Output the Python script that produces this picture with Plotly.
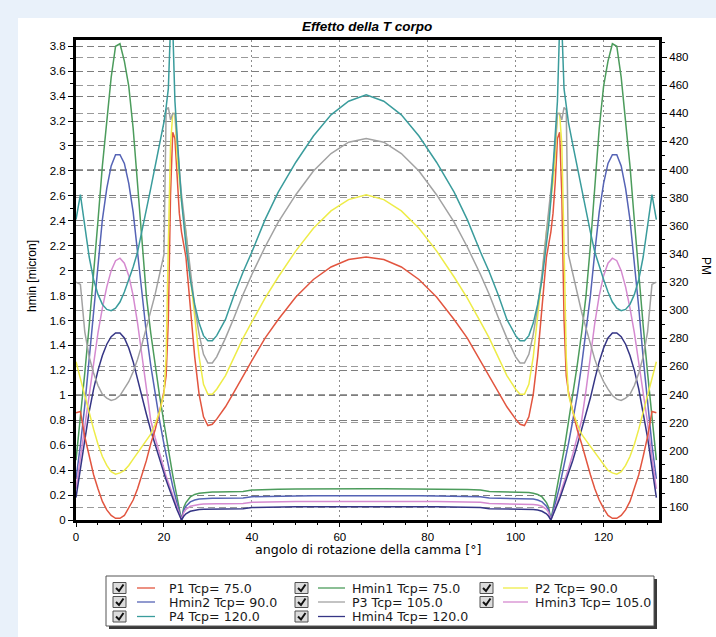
import plotly.graph_objects as go

# ---------------- data ----------------
ANGLE = [0, 1, 2, 3, 4, 5, 6, 7, 8, 9, 10, 11, 12, 13, 14, 15, 16, 17, 18, 19, 20,
         20.5, 21, 21.5, 22, 22.5, 23, 23.5, 24, 24.5, 25, 26, 27, 28, 29, 30, 31, 32,
         34, 36, 38, 40, 43, 46, 50, 54, 58, 62, 66,
         70, 74, 78, 82, 86, 89, 92, 94, 96, 98, 100, 101, 102, 103, 104, 105, 106, 107,
         107.5, 108, 108.5, 109, 109.5, 110, 110.5, 111, 111.5, 112,
         113, 114, 115, 116, 117, 118, 119, 120, 121, 122, 123, 124, 125, 126, 127, 128,
         129, 130, 131, 132]

# pressures (right axis, PM)
P1 = [227, 228, 210, 196, 183, 173, 164, 158, 154, 152, 152, 154, 159, 165, 173, 183, 193, 205, 215, 228, 242,
      253.5, 293.4, 382, 426.5, 422, 391, 369, 355.5, 346.6, 337.8, 302.3, 266.8, 240.2, 224.2, 218, 218.9, 222.5,
      231.3, 242, 253.5, 264.1, 280.1, 293.4, 309.4, 321.8, 330.7, 336, 337.8,
      336, 330.7, 321.8, 309.4, 293.4, 280.1, 264.1, 253.5, 242, 231.3, 222.5, 218.9, 218, 224.2, 240.2, 266.8,
      302.3, 337.8, 346.6, 355.5, 369, 391, 422, 426.5, 382, 293.4, 253.5, 242, 228, 215, 205, 193, 183, 173, 165,
      159, 154, 152, 152, 154, 158, 164, 173, 183, 196, 210, 228, 227]
P2 = [263.3, 250.8, 238.4, 226.9, 215.4, 204.7, 195.9, 189.6, 185.2, 183.4, 184.3, 186.1, 189.6, 194.1, 198.5,
      203, 207.4, 211.8, 218.9, 227.8, 240.2, 266.8, 346.6, 417.6, 439.8, 439.8, 408.7, 391, 377.7, 366.2, 355.5,
      324.5, 293.4, 266.8, 247.3, 240.2, 240.2, 243.8, 253.5, 266.8, 280.1, 291.6, 308.5, 323.6, 342.2, 358.2,
      370.6, 378.6, 382.1,
      378.6, 370.6, 358.2, 342.2, 323.6, 308.5, 291.6, 280.1, 266.8, 253.5, 243.8, 240.2, 240.2, 247.3, 266.8,
      293.4, 324.5, 355.5, 366.2, 377.7, 391, 408.7, 439.8, 439.8, 417.6, 346.6, 266.8, 240.2, 227.8, 218.9,
      211.8, 207.4, 203, 198.5, 194.1, 189.6, 186.1, 184.3, 183.4, 185.2, 189.6, 195.9, 204.7, 215.4, 226.9,
      238.4, 250.8, 263.3]
P3 = [320, 318.3, 284.6, 266.8, 255.3, 246.4, 240.2, 237.5, 235.8, 236.7, 239.3, 243.8, 249.1, 256.2, 265,
      275.7, 287.2, 298.7, 311.2, 325.4, 339.5, 442.4, 444.2, 435.3, 439.8, 439.8, 417.6, 399.9, 382.1, 368.8,
      355.5, 326.2, 302.3, 282.8, 268.6, 262.4, 262.4, 266.8, 280.1, 295.2, 311.2, 325.4, 344.9, 362.6, 382.1,
      399, 411.4, 419.4, 422,
      419.4, 411.4, 399, 382.1, 362.6, 344.9, 325.4, 311.2, 295.2, 280.1, 266.8, 262.4, 262.4, 268.6, 282.8,
      302.3, 326.2, 355.5, 368.8, 382.1, 399.9, 417.6, 439.8, 439.8, 435.3, 444.2, 442.4, 339.5, 325.4, 311.2,
      298.7, 287.2, 275.7, 265, 256.2, 249.1, 243.8, 239.3, 236.7, 235.8, 237.5, 240.2, 246.4, 255.3, 266.8,
      284.6, 318.3, 320]
P4 = [364.4, 382.1, 360, 337.8, 321.8, 311.2, 304.1, 300.5, 299.6, 301.4, 305.8, 312.9, 321.8, 330.7, 341.3,
      355.5, 371.5, 386.6, 401.6, 417.6, 433.6, 444.2, 457.5, 502, 502, 448.6, 422, 399.9, 377.7, 360, 346.6,
      321.8, 304.1, 290.8, 281.9, 278.3, 278.3, 281.9, 293.4, 311.2, 327.1, 341.3, 364.4, 383.9, 405.2, 423.8,
      438.9, 448.6, 453.1,
      448.6, 438.9, 423.8, 405.2, 383.9, 364.4, 341.3, 327.1, 311.2, 293.4, 281.9, 278.3, 278.3, 281.9, 290.8,
      304.1, 321.8, 346.6, 360, 377.7, 399.9, 422, 448.6, 502, 502, 457.5, 444.2, 433.6, 417.6, 401.6, 386.6,
      371.5, 355.5, 341.3, 330.7, 321.8, 312.9, 305.8, 301.4, 299.6, 300.5, 304.1, 311.2, 321.8, 337.8, 360,
      382.1, 364.4]

# minimum film thickness (left axis, micron)
HMIN1 = [0.48, 0.82, 1.18, 1.56, 1.96, 2.4, 2.84, 3.2, 3.55, 3.8, 3.82, 3.68, 3.48, 3.14, 2.7, 2.2, 1.8, 1.5,
         1.24, 1.0, 0.78, 0.67, 0.56, 0.46, 0.36, 0.27, 0.18, 0.09, 0, 0.1, 0.14, 0.185, 0.205, 0.215, 0.22,
         0.222, 0.224, 0.225, 0.226, 0.227, 0.228, 0.24, 0.245, 0.247, 0.248, 0.25, 0.25, 0.25, 0.25,
         0.25, 0.25, 0.25, 0.248, 0.247, 0.245, 0.24, 0.228, 0.227, 0.226, 0.225, 0.224, 0.222, 0.22, 0.215,
         0.205, 0.185, 0.14, 0.1, 0, 0.09, 0.18, 0.27, 0.36, 0.46, 0.56, 0.67, 0.78, 1.0, 1.24, 1.5, 1.8, 2.2,
         2.7, 3.14, 3.48, 3.68, 3.82, 3.8, 3.55, 3.2, 2.84, 2.4, 1.96, 1.56, 1.18, 0.82, 0.48]
HMIN2 = [0.33, 0.6, 0.92, 1.3, 1.7, 2.07, 2.41, 2.66, 2.84, 2.93, 2.93, 2.86, 2.7, 2.47, 2.15, 1.8, 1.5, 1.24,
         1.0, 0.8, 0.61, 0.52, 0.43, 0.35, 0.27, 0.2, 0.13, 0.06, 0, 0.08, 0.11, 0.145, 0.16, 0.168, 0.172,
         0.173, 0.174, 0.175, 0.175, 0.176, 0.177, 0.187, 0.19, 0.192, 0.193, 0.194, 0.195, 0.195, 0.195,
         0.195, 0.195, 0.194, 0.193, 0.192, 0.19, 0.187, 0.177, 0.176, 0.175, 0.175, 0.174, 0.173, 0.172, 0.168,
         0.16, 0.145, 0.11, 0.08, 0, 0.06, 0.13, 0.2, 0.27, 0.35, 0.43, 0.52, 0.61, 0.8, 1.0, 1.24, 1.5, 1.8,
         2.15, 2.47, 2.7, 2.86, 2.93, 2.93, 2.84, 2.66, 2.41, 2.07, 1.7, 1.3, 0.92, 0.6, 0.33]
HMIN3 = [0.25, 0.5, 0.78, 1.03, 1.27, 1.5, 1.7, 1.87, 2.0, 2.08, 2.1, 2.06, 1.96, 1.8, 1.58, 1.32, 1.04, 0.8,
         0.66, 0.53, 0.41, 0.35, 0.3, 0.25, 0.19, 0.14, 0.09, 0.045, 0, 0.06, 0.085, 0.11, 0.12, 0.125, 0.128,
         0.13, 0.13, 0.13, 0.13, 0.131, 0.132, 0.142, 0.145, 0.147, 0.148, 0.149, 0.15, 0.15, 0.15,
         0.15, 0.15, 0.149, 0.148, 0.147, 0.145, 0.142, 0.132, 0.131, 0.13, 0.13, 0.13, 0.13, 0.128, 0.125,
         0.12, 0.11, 0.085, 0.06, 0, 0.045, 0.09, 0.14, 0.19, 0.25, 0.3, 0.35, 0.41, 0.53, 0.66, 0.8, 1.04,
         1.32, 1.58, 1.8, 1.96, 2.06, 2.1, 2.08, 2.0, 1.87, 1.7, 1.5, 1.27, 1.03, 0.78, 0.5, 0.25]
HMIN4 = [0.18, 0.42, 0.66, 0.87, 1.05, 1.2, 1.32, 1.41, 1.47, 1.5, 1.5, 1.46, 1.38, 1.27, 1.13, 0.98, 0.85, 0.72,
         0.6, 0.48, 0.37, 0.32, 0.27, 0.22, 0.17, 0.12, 0.08, 0.04, 0, 0.03, 0.05, 0.07, 0.08, 0.085, 0.087,
         0.088, 0.088, 0.089, 0.089, 0.09, 0.09, 0.1, 0.103, 0.105, 0.106, 0.107, 0.108, 0.108, 0.108,
         0.108, 0.108, 0.107, 0.106, 0.105, 0.103, 0.1, 0.09, 0.09, 0.089, 0.089, 0.088, 0.088, 0.087, 0.085,
         0.08, 0.07, 0.05, 0.03, 0, 0.04, 0.08, 0.12, 0.17, 0.22, 0.27, 0.32, 0.37, 0.48, 0.6, 0.72, 0.85, 0.98,
         1.13, 1.27, 1.38, 1.46, 1.5, 1.5, 1.47, 1.41, 1.32, 1.2, 1.05, 0.87, 0.66, 0.42, 0.18]

SERIES_NAMES = ["P1 Tcp= 75.0", "Hmin1 Tcp= 75.0", "P2 Tcp= 90.0", "Hmin2 Tcp= 90.0",
                "P3 Tcp= 105.0", "Hmin3 Tcp= 105.0", "P4 Tcp= 120.0", "Hmin4 Tcp= 120.0"]
SERIES_VALUES = [P1, HMIN1, P2, HMIN2, P3, HMIN3, P4, HMIN4]
SERIES_AXIS = ["y2", "y", "y2", "y", "y2", "y", "y2", "y"]
SERIES_COLORS = ["#e2553f", "#4c9c5c", "#eeec48", "#5563b5", "#a2a2a2", "#d58ad0", "#3a9c9c", "#353585"]

TITLE = "Effetto della T corpo"
X_TITLE = "angolo di rotazione della camma [°]"
Y_TITLE = "hmin [micron]"
Y2_TITLE = "PM"

# ---------------- layout helpers ----------------
W, H = 716, 637
ML, MR, MT, MB = 76, 57, 40, 117
PW = W - ML - MR
PH = H - MT - MB


def px(x):
    return (x - ML) / PW


def py(y):
    return (H - MB - y) / PH


fig = go.Figure()
for name, vals, ax, col in zip(SERIES_NAMES, SERIES_VALUES, SERIES_AXIS, SERIES_COLORS):
    fig.add_trace(go.Scatter(x=ANGLE, y=vals, yaxis=ax, mode="lines", name=name,
                             line=dict(color=col, width=1.5), showlegend=False))

tickfont = dict(family="Liberation Sans, Arial", size=11.5, color="black")

shapes = []
annotations = []

# page frame: white panel on light-blue background
shapes.append(dict(type="rect", xref="paper", yref="paper", layer="below",
                   x0=px(18), x1=px(W + 5), y0=py(H + 5), y1=py(18),
                   fillcolor="white", line=dict(width=0)))

# legend box with shadow
LB = (106, 576, 654, 626)
shapes.append(dict(type="rect", xref="paper", yref="paper",
                   x0=px(LB[0] + 3), x1=px(LB[2] + 3), y0=py(LB[3] + 3), y1=py(LB[1] + 3),
                   fillcolor="#3a3a3a", line=dict(width=0)))
shapes.append(dict(type="rect", xref="paper", yref="paper",
                   x0=px(LB[0]), x1=px(LB[2]), y0=py(LB[3]), y1=py(LB[1]),
                   fillcolor="white", line=dict(color="#555555", width=1)))

ROWS = [588, 602, 616.5]
CB_X = [113, 295, 480]
LINE_X = [(137, 155), (318, 345), (503, 528)]
TEXT_X = [167, 350, 533]
for i, (name, col) in enumerate(zip(SERIES_NAMES, SERIES_COLORS)):
    r, c = divmod(i, 3)
    yc = ROWS[r]
    cx = CB_X[c]
    shapes.append(dict(type="rect", xref="paper", yref="paper",
                       x0=px(cx), x1=px(cx + 13), y0=py(yc + 5.5), y1=py(yc - 5.5),
                       fillcolor="#dcdcdc", line=dict(color="#505050", width=1)))
    path = "M {} {} L {} {} L {} {}".format(px(cx + 3), py(yc), px(cx + 6), py(yc + 3),
                                            px(cx + 10.5), py(yc - 3.5))
    shapes.append(dict(type="path", xref="paper", yref="paper", path=path,
                       line=dict(color="#111111", width=2)))
    shapes.append(dict(type="line", xref="paper", yref="paper",
                       x0=px(LINE_X[c][0]), x1=px(LINE_X[c][1]), y0=py(yc), y1=py(yc),
                       line=dict(color=col, width=1.3)))
    annotations.append(dict(text=name, xref="paper", yref="paper", x=px(TEXT_X[c]), y=py(yc),
                            xanchor="left", yanchor="middle", showarrow=False,
                            font=dict(family="DejaVu Sans", size=12.6, color="#1a1a1a")))

# axis titles
annotations.append(dict(text=X_TITLE, xref="paper", yref="paper", x=px(368), y=py(549),
                        xanchor="center", yanchor="middle", showarrow=False,
                        font=dict(family="DejaVu Sans", size=12.6, color="black")))
annotations.append(dict(text=Y_TITLE, xref="paper", yref="paper", x=px(32), y=py(276),
                        xanchor="center", yanchor="middle", showarrow=False, textangle=-90,
                        font=dict(family="Liberation Sans, Arial", size=12, color="black")))
annotations.append(dict(text=Y2_TITLE, xref="paper", yref="paper", x=px(706), y=py(266),
                        xanchor="center", yanchor="middle", showarrow=False, textangle=90,
                        font=dict(family="Liberation Sans, Arial", size=12, color="black")))
annotations.append(dict(text="<b><i>" + TITLE + "</i></b>", xref="paper", yref="paper",
                        x=px(367), y=py(27), xanchor="center", yanchor="middle", showarrow=False,
                        font=dict(family="Liberation Sans, Arial", size=13.5, color="black")))

fig.update_layout(
    width=W, height=H,
    margin=dict(l=ML, r=MR, t=MT, b=MB, pad=0),
    paper_bgcolor="#e9f1fa",
    plot_bgcolor="white",
    showlegend=False,
    xaxis=dict(range=[0, 132.6], tick0=0, dtick=20, showgrid=True, gridcolor="#8c8c8c",
               griddash="2px,3px", gridwidth=1, zeroline=False, showline=True,
               linecolor="black", linewidth=2.5, mirror=True, ticks="outside", ticklen=4,
               tickcolor="black", tickfont=tickfont,
               minor=dict(dtick=5, ticks="outside", ticklen=2, tickcolor="black", showgrid=False)),
    yaxis=dict(range=[0, 3.85], tick0=0, dtick=0.2, showgrid=True, gridcolor="#7e7e7e",
               griddash="7px,4px", gridwidth=1, zeroline=False, showline=True,
               linecolor="black", linewidth=3, ticks="outside", ticklen=5, tickcolor="black",
               tickfont=tickfont,
               minor=dict(dtick=0.1, ticks="outside", ticklen=3, tickcolor="black", showgrid=False)),
    yaxis2=dict(overlaying="y", side="right", range=[150.8, 492.1], tick0=0, dtick=20,
                showgrid=True, gridcolor="#9a9a9a", griddash="7px,4px", gridwidth=1,
                zeroline=False, showline=True, linecolor="black", linewidth=3,
                ticks="outside", ticklen=5, tickcolor="black", tickfont=tickfont,
                minor=dict(dtick=10, ticks="outside", ticklen=3, tickcolor="black", showgrid=False)),
    shapes=shapes,
    annotations=annotations,
)

fig.write_html("out.html")
